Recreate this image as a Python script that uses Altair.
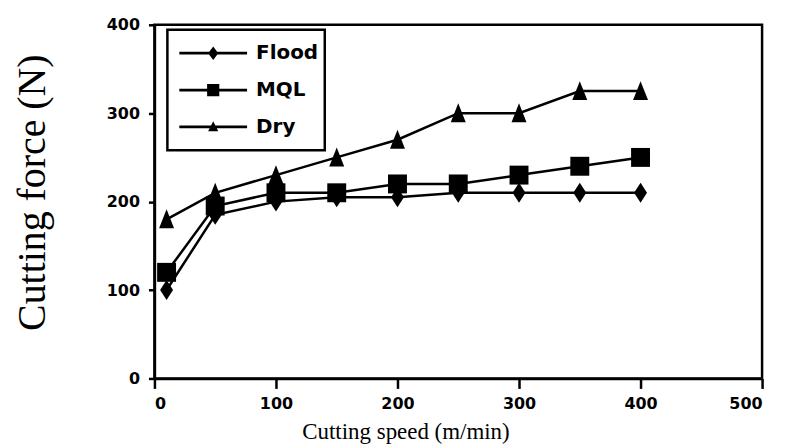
import altair as alt
import pandas as pd

speed = [10, 50, 100, 150, 200, 250, 300, 350, 400]
flood = [100, 185, 200, 205, 205, 210, 210, 210, 210]
mql = [120, 195, 210, 210, 220, 220, 230, 240, 250]
dry = [180, 210, 230, 250, 270, 300, 300, 325, 325]
series = ["Flood", "MQL", "Dry"]
x_ticks = [0, 100, 200, 300, 400, 500]
y_ticks = [0, 100, 200, 300, 400]

rows = []
for name, vals in zip(series, [flood, mql, dry]):
    for s, v in zip(speed, vals):
        rows.append({"speed": s, "force": v, "cond": name})
df = pd.DataFrame(rows)

x = alt.X("speed:Q", scale=alt.Scale(domain=[0, 500], nice=False),
          axis=alt.Axis(values=x_ticks, title="Cutting speed (m/min)", grid=False,
                        tickSize=10, labelPadding=7, titleX=252, titleY=60,
                        titleAlign="center", titleBaseline="alphabetic",
                        titleFont="Liberation Serif", titleFontSize=23, titleFontWeight="normal"))
y = alt.Y("force:Q", scale=alt.Scale(domain=[0, 400], nice=False),
          axis=alt.Axis(values=y_ticks, title="Cutting force (N)", grid=False,
                        tickSize=6, labelPadding=9, titleX=-122, titleY=168,
                        titleAlign="center", titleBaseline="middle", titleAngle=-90,
                        titleFont="Liberation Serif", titleFontSize=40, titleFontWeight="normal"))

plot_shapes = ["M0,-1L0.65,0L0,1L-0.65,0Z", "M-0.95,-0.95H0.95V0.95H-0.95Z", "M0,-1L0.75,0.9H-0.75Z"]
legend_shapes = [
    "M-1,-0.04H1V0.04H-1ZM0,-0.2L0.15,0L0,0.2L-0.15,0Z",
    "M-1,-0.04H1V0.04H-1ZM-0.18,-0.18H0.18V0.18H-0.18Z",
    "M-1,-0.04H1V0.04H-1ZM0,-0.17L0.15,0.13H-0.15Z",
]

lines = alt.Chart(df).mark_line(color="black", strokeWidth=2.5).encode(
    x=x, y=y, detail="cond:N")

points = alt.Chart(df).mark_point(filled=True, color="black", opacity=1, size=400).encode(
    x=x, y=y,
    shape=alt.Shape("cond:N", scale=alt.Scale(domain=series, range=plot_shapes), legend=None))

legend_layer = alt.Chart(df).mark_point(filled=True, color="black", opacity=0, size=10).encode(
    x=x, y=y,
    shape=alt.Shape("cond:N", scale=alt.Scale(domain=series, range=legend_shapes),
                    legend=alt.Legend(title=None, orient="none", legendX=13, legendY=5,
                                      symbolSize=4624, symbolOpacity=1,
                                      symbolFillColor="black", symbolStrokeColor="black",
                                      symbolStrokeWidth=0, symbolOffset=6, clipHeight=35,
                                      labelOffset=9, labelFont="DejaVu Sans",
                                      labelFontWeight="bold", labelFontSize=20,
                                      labelColor="black", padding=6,
                                      strokeColor="black", fillColor="white")))

chart = alt.layer(lines, points, legend_layer).resolve_scale(shape="independent").properties(
    width=610, height=355,
    autosize=alt.AutoSizeParams(type="none"),
    padding={"left": 147, "top": 16, "right": 20, "bottom": 80},
).configure_view(stroke="black", strokeWidth=2.5).configure_axis(
    domainColor="black", domainWidth=2.5, tickColor="black", tickWidth=2.5,
    labelFont="DejaVu Sans", labelFontWeight="bold", labelFontSize=16, labelColor="black",
    titleColor="black"
).configure_legend(strokeWidth=2.5)

chart.save("out.html", embed_options={"renderer": "svg", "actions": False})
